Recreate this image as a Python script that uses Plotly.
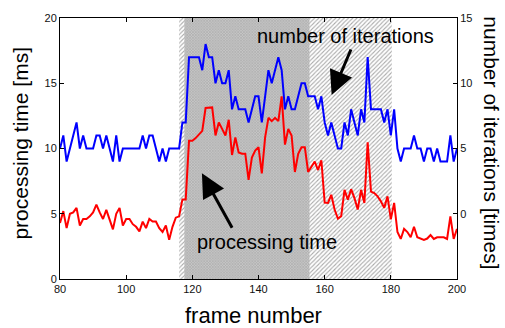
import plotly.graph_objects as go

frames = list(range(80, 201))

iterations = [
    5, 6, 4, 5, 6, 7, 5, 6, 5, 5, 5, 6, 6, 5, 6, 5, 4, 6, 4, 5, 5,
    5, 5, 5, 5, 6, 5, 6, 6, 5, 4, 5, 4, 5, 5, 5, 5, 7, 7, 12, 12,
    12, 12, 11, 13, 12, 12, 10, 11, 10, 10, 11, 8, 9, 8, 8, 8, 7, 8, 9, 9,
    7, 9, 11, 10, 11, 12, 11, 8, 9, 8, 8, 9, 10, 10, 9, 9, 9, 8, 9, 7,
    6, 7, 6, 5, 5, 7, 6, 8, 7, 6, 8, 7, 12, 8, 8, 8, 8, 7, 8, 6,
    8, 5, 4, 5, 5, 5, 6, 5, 5, 4, 5, 5, 4, 5, 4, 4, 4, 6, 4, 5,
]

proc_time = [
    4.3, 5.2, 3.9, 5.0, 5.1, 5.45, 4.1, 4.6, 4.6, 4.8, 5.1, 5.7, 5.1, 4.6, 5.3, 4.6, 3.8, 5.0, 5.45, 4.1, 4.6,
    4.6, 4.2, 4.0, 3.65, 4.4, 3.9, 4.6, 4.4, 4.4, 3.9, 3.6, 4.1, 3.0, 4.0, 4.7, 4.8, 6.1, 6.1, 10.6, 10.6,
    10.8, 11.1, 11.35, 13.1, 13.1, 13.15, 11.0, 12.0, 11.5, 11.0, 12.2, 9.5, 10.85, 9.7, 9.6, 9.6, 7.6, 9.3, 9.85, 10.1,
    8.1, 10.85, 12.35, 12.1, 12.35, 12.1, 14.0, 10.3, 11.5, 11.0, 8.2, 9.6, 10.1, 10.1, 8.2, 8.6, 9.0, 8.35, 9.1, 5.85,
    5.83, 6.45, 5.32, 4.62, 4.82, 6.83, 6.08, 6.88, 6.2, 5.32, 6.83, 5.83, 10.47, 6.7, 6.58, 6.33, 5.95, 5.45, 6.33, 4.57,
    5.83, 3.6, 3.07, 3.84, 3.6, 3.2, 4.0, 3.2, 3.07, 3.0, 3.1, 3.37, 3.07, 3.2, 3.2, 3.2, 3.07, 4.8, 3.07, 3.84,
]

hatch_range = (116, 180.3)
dark_range = (117.6, 155.4)
time_range = [0, 20]
iter_range = [-5, 15]
x_range = [80, 200]

FONT = "Liberation Sans, Arial, sans-serif"

fig = go.Figure()

def region(rng, pattern):
    a, b = rng
    y0, y1 = time_range
    return go.Scatter(
        x=[a, b, b, a, a], y=[y0, y0, y1, y1, y0],
        mode="lines", line=dict(width=0), fill="toself",
        fillcolor="rgba(0,0,0,0)", fillpattern=pattern,
        hoverinfo="skip", showlegend=False,
    )

fig.add_trace(region(hatch_range, dict(shape="/", fgcolor="#555555", bgcolor="#ffffff",
                                        size=3, solidity=0.35)))
fig.add_trace(region(dark_range, dict(shape="x", fgcolor="#8a8a8a", bgcolor="#c6c6c6",
                                       size=2, solidity=0.5)))

fig.add_trace(go.Scatter(x=frames, y=proc_time, mode="lines",
                         line=dict(color="#ff0000", width=2), showlegend=False))
fig.add_trace(go.Scatter(x=frames, y=iterations, mode="lines", yaxis="y2",
                         line=dict(color="#0000ff", width=2), showlegend=False))

axis_common = dict(showgrid=False, zeroline=False, showline=True, linecolor="black",
                   linewidth=1, ticks="inside", ticklen=4, tickcolor="black",
                   tickfont=dict(family=FONT, size=11, color="#111"))

fig.update_layout(
    width=505, height=328,
    margin=dict(l=60, r=48, t=14, b=49),
    paper_bgcolor="white", plot_bgcolor="white",
    xaxis=dict(range=x_range, tickvals=list(range(80, 201, 20)), mirror="ticks", **axis_common),
    yaxis=dict(range=time_range, tickvals=[0, 5, 10, 15, 20], mirror=True, **axis_common),
    yaxis2=dict(range=iter_range, tickvals=[0, 5, 10, 15], overlaying="y", side="right",
                **axis_common),
    font=dict(family=FONT, color="black"),
)

title_font = dict(family=FONT, size=21, color="black")
ann_font = dict(family=FONT, size=20, color="black")

fig.add_annotation(text="frame number", xref="paper", yref="paper", x=0.488, y=-0.139,
                   showarrow=False, font=dict(family=FONT, size=22, color="black"),
                   xanchor="center", yanchor="middle")
fig.add_annotation(text="processing time [ms]", xref="paper", yref="paper", x=-0.1, y=0.52,
                   showarrow=False, font=title_font, textangle=-90,
                   xanchor="center", yanchor="middle")
fig.add_annotation(text="number of iterations [times]", xref="paper", yref="paper",
                   x=1.088, y=0.52, showarrow=False, font=title_font, textangle=90,
                   xanchor="center", yanchor="middle")

fig.add_annotation(text="number of iterations", x=166.2, y=18.6, xref="x", yref="y",
                   showarrow=False, font=ann_font)
fig.add_annotation(text="processing time", x=142.7, y=2.8, xref="x", yref="y",
                   showarrow=False, font=ann_font)

fig.add_annotation(text="", x=162.1, y=14.1, xref="x", yref="y", ax=20, ay=-47,
                   showarrow=True, arrowhead=2, arrowsize=1.6, arrowwidth=3,
                   arrowcolor="black")
fig.add_annotation(text="", x=122.9, y=8.1, xref="x", yref="y", ax=31, ay=56,
                   showarrow=True, arrowhead=2, arrowsize=1.6, arrowwidth=3,
                   arrowcolor="black")

fig.write_html("out.html", config={"displayModeBar": False},
               post_script="document.body.style.margin='0';")
